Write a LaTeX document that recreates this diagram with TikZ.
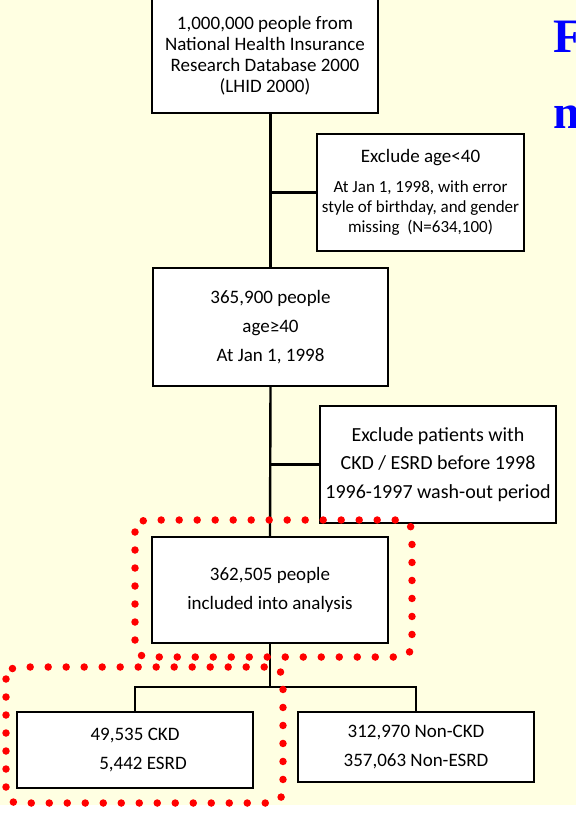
\documentclass[tikz,border=0pt]{standalone}
\usepackage{fontspec}
\setmainfont{Carlito}
\newfontfamily\headserif{Liberation Serif}
\definecolor{paper}{RGB}{255,255,226}
\definecolor{dotred}{RGB}{255,0,0}
\definecolor{headblue}{RGB}{0,0,255}

\begin{document}
\begin{tikzpicture}[x=1pt,y=-1pt,
  box/.style={draw=black, line width=2.4pt, fill=white, align=center, inner sep=0pt,
    font=\fontsize{19}{29}\selectfont},
  link/.style={line width=2.4pt},
  dots/.style={draw=dotred, line width=7.5pt, line cap=round, dash pattern=on 0pt off 18pt, rounded corners=12pt},
  head/.style={anchor=base west, inner sep=0pt, text=headblue, font=\headserif\bfseries\fontsize{48}{48}\selectfont}]

% page
\fill[paper] (0,0) rectangle (576,805);
\useasboundingbox (0,0) rectangle (576,820);

% main column
\node[box, minimum width=226pt, minimum height=114pt, font=\fontsize{19}{21}\selectfont] (lhid) at (265,56)
  {1,000,000 people from\\ National Health Insurance\\ Research Database 2000\\ (LHID 2000)};
\node[box, minimum width=235pt, minimum height=118pt] (pop40) at (270.5,327)
  {365,900 people\\ age≥40\\ At Jan 1, 1998};
\node[box, minimum width=236pt, minimum height=106pt] (incl) at (270,590)
  {362,505 people\\ included into analysis};

% exclusions
\node[box, minimum width=207pt, minimum height=117pt, font=\fontsize{17}{20}\selectfont] (exc1) at (420.5,192.5)
  {{\fontsize{19}{20}\selectfont Exclude age<40}\\[10pt] At Jan 1, 1998, with error\\ style of birthday, and gender\\ missing~~(N=634,100)};
\node[box, minimum width=236pt, minimum height=117pt, font=\fontsize{20}{28.5}\selectfont] (exc2) at (438,464.5)
  {Exclude patients with\\ CKD / ESRD before 1998\\ 1996-1997 wash-out period};

% groups
\node[box, minimum width=236pt, minimum height=76pt] (ckd) at (135,750)
  {49,535 CKD\\ \hspace*{16pt}5,442 ESRD};
\node[box, minimum width=236pt, minimum height=70pt] (nonckd) at (416,747)
  {312,970 Non-CKD\\ 357,063 Non-ESRD};

% lines
\draw[link] (lhid.south -| pop40.north) -- (pop40.north);
\draw[link] (pop40.south) -- (incl.north);
\foreach \e/\m in {exc1/pop40, exc2/incl}
  \draw[link] (\e.west) -- (\e.west -| \m.north);
\coordinate (split) at (270,687);
\draw[link] (incl.south) -- (split);
\draw[link] (ckd.north) |- (split) -| (nonckd.north);

% red dotted frames
\draw[dots] (135,520) rectangle (412,657);
\draw[dots] (6,667) rectangle (283,803);

% cut-off heading
\node[head] (headF) at (553,52) {F};
\node[head] (headn) at (553,128) {n};

\end{tikzpicture}
\end{document}
